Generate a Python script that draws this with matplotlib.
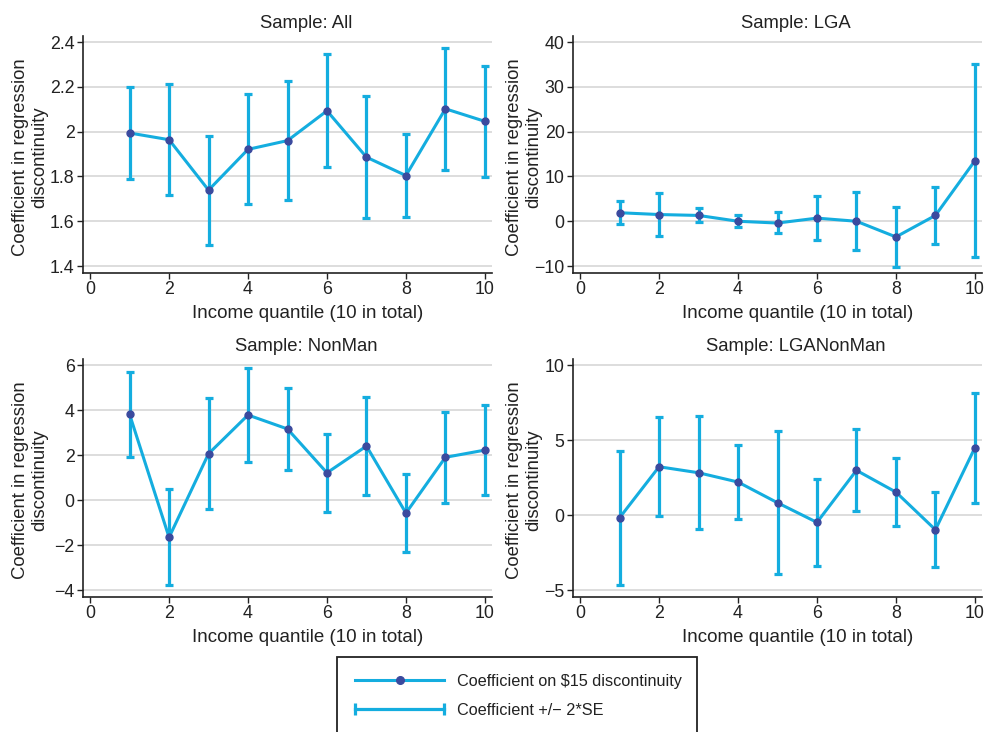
import numpy as np
import matplotlib.pyplot as plt
from matplotlib.lines import Line2D
from matplotlib.legend_handler import HandlerLine2D
from matplotlib.patches import Rectangle

plt.rcParams['font.family'] = ['Liberation Sans', 'DejaVu Sans']

quantile = np.arange(1, 11)

# Sample: All
all_coef = [1.994, 1.964, 1.739, 1.921, 1.960, 2.093, 1.886, 1.804, 2.102, 2.046]
all_hi = [2.200, 2.212, 1.982, 2.166, 2.228, 2.345, 2.160, 1.988, 2.373, 2.295]
all_lo = [1.788, 1.719, 1.493, 1.679, 1.693, 1.843, 1.613, 1.621, 1.830, 1.799]

# Sample: LGA
lga_coef = [1.9, 1.5, 1.3, 0.0, -0.4, 0.7, 0.0, -3.5, 1.3, 13.5]
lga_hi = [4.5, 6.3, 2.9, 1.3, 2.0, 5.6, 6.5, 3.1, 7.6, 35.1]
lga_lo = [-0.7, -3.3, -0.2, -1.3, -2.7, -4.2, -6.5, -10.1, -5.0, -7.9]

# Sample: NonMan
nonman_coef = [3.81, -1.66, 2.06, 3.78, 3.16, 1.21, 2.40, -0.58, 1.90, 2.22]
nonman_hi = [5.69, 0.47, 4.52, 5.87, 4.99, 2.95, 4.56, 1.14, 3.93, 4.22]
nonman_lo = [1.93, -3.79, -0.39, 1.70, 1.35, -0.52, 0.24, -2.30, -0.15, 0.21]

# Sample: LGANonMan
lganm_coef = [-0.18, 3.22, 2.82, 2.20, 0.82, -0.49, 2.98, 1.53, -0.98, 4.49]
lganm_hi = [4.29, 6.51, 6.60, 4.67, 5.58, 2.42, 5.71, 3.82, 1.53, 8.16]
lganm_lo = [-4.64, -0.07, -0.96, -0.24, -3.91, -3.40, 0.27, -0.71, -3.49, 0.82]

panels = [
    ("Sample: All", all_coef, all_hi, all_lo, [1.4, 1.6, 1.8, 2.0, 2.2, 2.4], ["1.4", "1.6", "1.8", "2", "2.2", "2.4"]),
    ("Sample: LGA", lga_coef, lga_hi, lga_lo, [-10, 0, 10, 20, 30, 40], ["\u221210", "0", "10", "20", "30", "40"]),
    ("Sample: NonMan", nonman_coef, nonman_hi, nonman_lo, [-4, -2, 0, 2, 4, 6], ["\u22124", "\u22122", "0", "2", "4", "6"]),
    ("Sample: LGANonMan", lganm_coef, lganm_hi, lganm_lo, [-5, 0, 5, 10], ["\u22125", "0", "5", "10"]),
]

line_col = '#14ADDF'
dot_col = '#3B4A9E'
txt = '#222222'

W, H = 987, 732
fig = plt.figure(figsize=(W / 100, H / 100), dpi=100)

# axes boxes in pixels: left, top, right, bottom
boxes = [(83, 36, 492, 273), (573, 36, 982, 273), (83, 359, 492, 597), (573, 359, 982, 597)]
ylab_x = [-0.085, -0.076, -0.085, -0.076]

for (title, coef, hi, lo, yt, ytl), (l, t, r, b), yx in zip(panels, boxes, ylab_x):
    ax = fig.add_axes([l / W, 1 - b / H, (r - l) / W, (b - t) / H])
    coef = np.array(coef)
    hi = np.array(hi)
    lo = np.array(lo)
    ax.errorbar(quantile, coef, yerr=[coef - lo, hi - coef], fmt='none',
                ecolor=line_col, elinewidth=2.3, capsize=3, capthick=2.3, zorder=2)
    ax.plot(quantile, coef, color=line_col, lw=2.2, marker='o', ms=5,
            mfc=dot_col, mec=dot_col, zorder=3)
    rng = yt[-1] - yt[0]
    ax.set_ylim(yt[0] - rng * 0.031, yt[-1] + rng * 0.027)
    ax.set_xlim(-0.18, 10.18)
    ax.set_yticks(yt)
    ax.set_yticklabels(ytl)
    ax.set_xticks([0, 2, 4, 6, 8, 10])
    ax.grid(axis='y', color='#D3D3D3', lw=1.1, zorder=0)
    ax.set_axisbelow(True)
    for s in ['top', 'right']:
        ax.spines[s].set_visible(False)
    for s in ['left', 'bottom']:
        ax.spines[s].set_linewidth(1.2)
        ax.spines[s].set_color(txt)
    ax.tick_params(labelsize=12.8, length=4, width=1, colors=txt, pad=2)
    ax.set_title(title, fontsize=13.3, color=txt, x=0.545, pad=6)
    ax.set_xlabel("Income quantile (10 in total)", fontsize=13.5, color=txt)
    ax.xaxis.set_label_coords(0.548, -0.135)
    ax.set_ylabel("Coefficient in regression\ndiscontinuity", fontsize=13.3, color=txt,
                  linespacing=1.15)
    ax.yaxis.set_label_coords(yx, 0.49)

# legend box (runs past the bottom edge)
fig.patches.append(Rectangle((337 / W, -0.05), (697 - 337) / W, 0.05 + 1 - 657 / H,
                             transform=fig.transFigure, fill=False, edgecolor=txt,
                             lw=1.3, figure=fig))

h1 = Line2D([], [], color=line_col, lw=2.2, marker='o', ms=5.5, mfc=dot_col, mec=dot_col)
h2 = Line2D([], [], color=line_col, lw=2.3, marker='|', ms=9, mew=2.3)
fig.legend([h1, h2], ["Coefficient on \\$15 discontinuity", "Coefficient +/\u2212 2*SE"],
           handler_map={h2: HandlerLine2D(numpoints=2, marker_pad=0)},
           loc='upper left', bbox_to_anchor=(355 / W, 1 - 674 / H), frameon=False,
           fontsize=11.7, handlelength=5.5, handletextpad=0.8, labelspacing=0.85,
           borderaxespad=0, borderpad=0, labelcolor=txt)

fig.savefig("out.png", dpi=100)
